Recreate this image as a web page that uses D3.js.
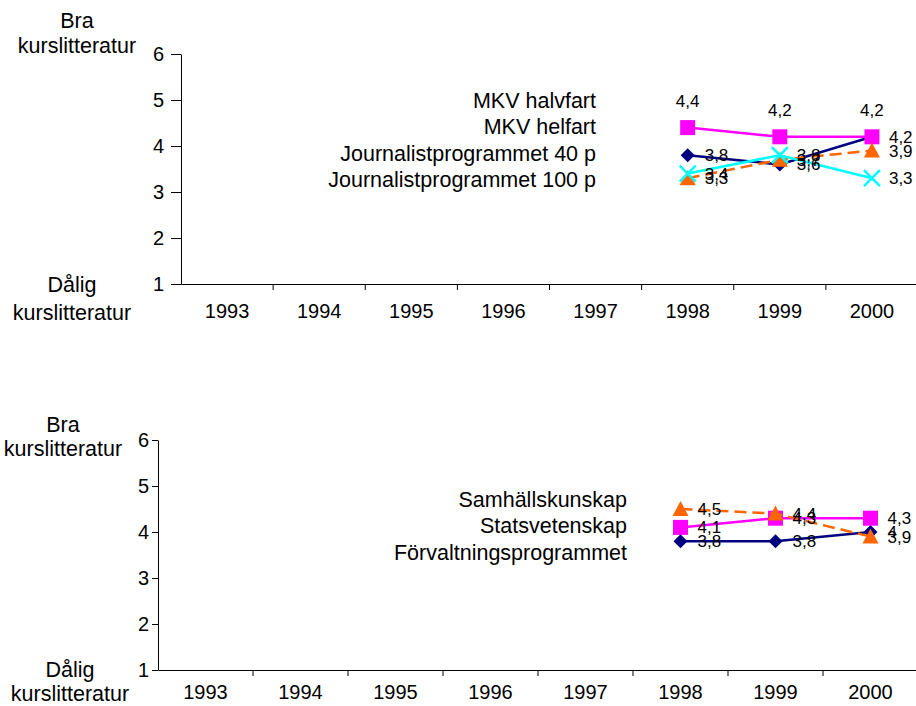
<!DOCTYPE html>
<html lang="sv">
  <head>
    <meta charset="UTF-8" />
    <title>Kurslitteratur</title>
    <script src="https://d3js.org/d3.v7.min.js"></script>
    <style>
      body { margin: 0; background: #fff; }
      svg text { font-family: Arial, "Liberation Sans", sans-serif; fill: #000; }
    </style>
  </head>
  <body>
    <svg id="chart" width="916" height="706"></svg>
    <script>
      let years = ['1993', '1994', '1995', '1996', '1997', '1998', '1999', '2000']
      let dataYears = ['1998', '1999', '2000']
      let yTicks = [1, 2, 3, 4, 5, 6]

      // top chart
      let topNames = ['MKV halvfart', 'MKV helfart', 'Journalistprogrammet 40 p', 'Journalistprogrammet 100 p']
      let mkvHalvfart = [3.8, 3.6, 4.2]
      let mkvHelfart = [4.4, 4.2, 4.2]
      let journ40 = [3.3, 3.7, 3.9]
      let journ100 = [3.4, 3.8, 3.3]

      // bottom chart
      let bottomNames = ['Samhällskunskap', 'Statsvetenskap', 'Förvaltningsprogrammet']
      let samhall = [3.8, 3.8, 4.0]
      let statsvet = [4.1, 4.3, 4.3]
      let forvalt = [4.5, 4.4, 3.9]

      let styles = [
        { color: '#000080', marker: 'diamond', dash: null },
        { color: '#ff00ff', marker: 'square', dash: null },
        { color: '#ff6600', marker: 'triangle', dash: '12,6' },
        { color: '#00ffff', marker: 'cross', dash: null },
      ]

      let svg = d3.select('#chart')

      function drawChart(opt) {
        let g = svg.append('g')
        let x = d3.scaleBand().domain(years).range([opt.left, 918]).padding(0)
        let y = d3.scaleLinear().domain([1, 6]).range([opt.bottom, opt.bottom - 230])

        // y axis
        let yAxis = g.append('g')
          .attr('transform', `translate(${opt.left},0)`)
          .call(d3.axisLeft(y).tickValues(yTicks).tickFormat(d3.format('d'))
            .tickSize(opt.yTick).tickPadding(opt.yPad).tickSizeOuter(0))
        yAxis.select('.domain').attr('stroke', '#000')
        yAxis.selectAll('.tick line').attr('stroke', '#000')
        yAxis.selectAll('text').style('font-size', '20px')

        // x axis: labels centred, ticks at category boundaries
        let xAxis = g.append('g')
          .attr('transform', `translate(0,${opt.bottom})`)
          .call(d3.axisBottom(x).tickSize(0).tickPadding(opt.xPad).tickSizeOuter(0))
        xAxis.select('.domain').attr('stroke', '#000')
        xAxis.selectAll('text').style('font-size', '20px')
        g.selectAll('.xtick')
          .data(years.slice(1))
          .enter()
          .append('line')
          .attr('x1', d => x(d))
          .attr('x2', d => x(d))
          .attr('y1', opt.bottom)
          .attr('y2', opt.bottom + 6)
          .attr('stroke', '#000')

        // axis titles
        let t = g.append('g').style('font-size', '21.5px').attr('text-anchor', 'middle')
        t.append('text').attr('x', opt.titleX[0]).attr('y', opt.titleY[0]).text('Bra')
        t.append('text').attr('x', opt.titleX[0]).attr('y', opt.titleY[1]).text('kurslitteratur')
        t.append('text').attr('x', opt.titleX[1]).attr('y', opt.titleY[2]).text('Dålig')
        t.append('text').attr('x', opt.titleX[1]).attr('y', opt.titleY[3]).text('kurslitteratur')

        // legend (text only)
        g.selectAll('.leg')
          .data(opt.names)
          .enter()
          .append('text')
          .attr('x', opt.legX)
          .attr('y', (d, i) => opt.legY + i * 26.5)
          .attr('dy', '0.35em')
          .attr('text-anchor', 'end')
          .style('font-size', '21.5px')
          .text(d => d)

        let cx = d => x(d) + x.bandwidth() / 2
        let line = d3.line().x(d => cx(d.year)).y(d => y(d.v))

        opt.series.forEach((vals, i) => {
          let s = styles[i]
          let pts = vals.map((v, j) => ({ year: dataYears[j], v: v }))
          g.append('path')
            .datum(pts)
            .attr('d', line)
            .attr('fill', 'none')
            .attr('stroke', s.color)
            .attr('stroke-width', 2.5)
            .attr('stroke-dasharray', s.dash)

          let m = g.selectAll(null).data(pts).enter().append('g')
            .attr('transform', d => `translate(${cx(d.year)},${y(d.v)})`)
          if (s.marker === 'diamond') {
            m.append('path').attr('d', 'M0,-7L7,0L0,7L-7,0Z').attr('fill', s.color)
          } else if (s.marker === 'square') {
            m.append('rect').attr('x', -7.5).attr('y', -7.5).attr('width', 15).attr('height', 15).attr('fill', s.color)
          } else if (s.marker === 'triangle') {
            m.append('path').attr('d', 'M0,-8L8,7L-8,7Z').attr('fill', s.color)
          } else {
            m.append('path').attr('d', 'M-8,-8L8,8M-8,8L8,-8').attr('stroke', s.color).attr('stroke-width', 2.5)
          }
        })

        // data labels
        opt.series.forEach((vals, i) => {
          let above = opt.above.includes(i)
          g.selectAll(null)
            .data(vals)
            .enter()
            .append('text')
            .attr('x', (d, j) => cx(dataYears[j]) + (above ? 0 : 17))
            .attr('y', (d, j) => y(d) - (above ? 27 : 0))
            .attr('dy', '0.35em')
            .attr('text-anchor', above ? 'middle' : 'start')
            .style('font-size', '17px')
            .text(d => String(d).replace('.', ','))
        })
      }

      drawChart({
        left: 181, bottom: 284, yTick: 10, yPad: 7, xPad: 20,
        titleX: [77, 72], titleY: [28, 53, 292, 320], legX: 596, legY: 100,
        names: topNames,
        series: [mkvHalvfart, mkvHelfart, journ40, journ100],
        above: [1],
      })

      drawChart({
        left: 158, bottom: 670, yTick: 6, yPad: 3, xPad: 15,
        titleX: [63, 70], titleY: [432, 456, 677, 701], legX: 627, legY: 499,
        names: bottomNames,
        series: [samhall, statsvet, forvalt],
        above: [],
      })
    </script>
  </body>
</html>
